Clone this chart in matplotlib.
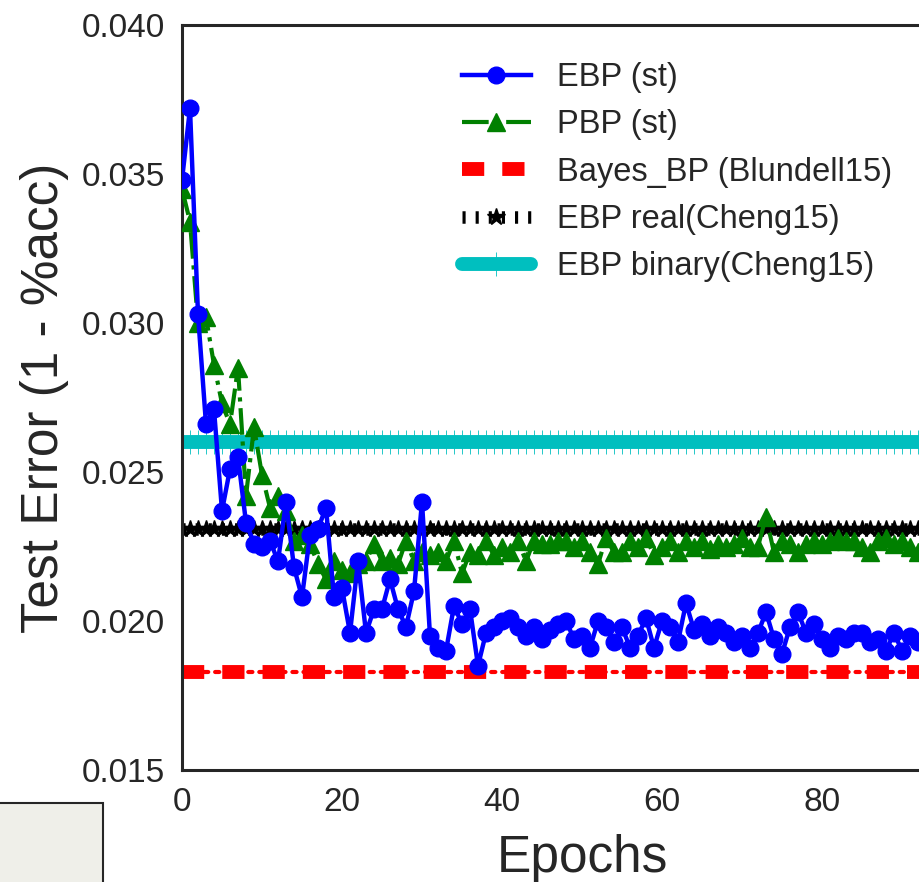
import numpy as np
import matplotlib
matplotlib.use("Agg")
import matplotlib.pyplot as plt
from matplotlib.patches import Rectangle

plt.rcParams['font.family'] = ['Liberation Sans', 'DejaVu Sans']

# test error per epoch
ebp_st = [0.0348, 0.0372, 0.0303, 0.0266, 0.0271, 0.0237, 0.0251, 0.0255, 0.0233, 0.0226,
          0.0225, 0.0227, 0.0220, 0.0240, 0.0218, 0.0208, 0.0229, 0.0231, 0.0238, 0.0208,
          0.0211, 0.0196, 0.0220, 0.0196, 0.0204, 0.0204, 0.0214, 0.0204, 0.0198, 0.0210,
          0.0240, 0.0195, 0.0191, 0.0190, 0.0205, 0.0199, 0.0204, 0.0185, 0.0196, 0.0198,
          0.0200, 0.0201, 0.0198, 0.0195, 0.0198, 0.0194, 0.0197, 0.0199, 0.0200, 0.0194,
          0.0195, 0.0191, 0.0200, 0.0198, 0.0193, 0.0198, 0.0191, 0.0195, 0.0201, 0.0191,
          0.0200, 0.0198, 0.0193, 0.0206, 0.0197, 0.0199, 0.0195, 0.0198, 0.0196, 0.0193,
          0.0195, 0.0191, 0.0196, 0.0203, 0.0194, 0.0189, 0.0198, 0.0203, 0.0196, 0.0199,
          0.0194, 0.0191, 0.0195, 0.0194, 0.0196, 0.0196, 0.0193, 0.0194, 0.0190, 0.0196,
          0.0190, 0.0195, 0.0193, 0.0195]
pbp_st = [0.0345, 0.0334, 0.0300, 0.0302, 0.0286, 0.0273, 0.0266, 0.0285, 0.0242, 0.0265,
          0.0249, 0.0238, 0.0242, 0.0237, 0.0227, 0.0229, 0.0226, 0.0219, 0.0214, 0.0220,
          0.0217, 0.0216, 0.0219, 0.0220, 0.0226, 0.0220, 0.0221, 0.0219, 0.0227, 0.0220,
          0.0223, 0.0222, 0.0223, 0.0220, 0.0227, 0.0216, 0.0223, 0.0222, 0.0227, 0.0222,
          0.0225, 0.0223, 0.0227, 0.0220, 0.0227, 0.0226, 0.0226, 0.0227, 0.0227, 0.0225,
          0.0227, 0.0223, 0.0219, 0.0228, 0.0223, 0.0223, 0.0227, 0.0225, 0.0228, 0.0222,
          0.0225, 0.0227, 0.0223, 0.0227, 0.0225, 0.0227, 0.0224, 0.0226, 0.0225, 0.0226,
          0.0228, 0.0225, 0.0225, 0.0235, 0.0223, 0.0227, 0.0226, 0.0223, 0.0226, 0.0227,
          0.0226, 0.0227, 0.0228, 0.0227, 0.0227, 0.0225, 0.0223, 0.0227, 0.0228, 0.0226,
          0.0227, 0.0225, 0.0223, 0.0225]
bayes_bp = 0.0183
ebp_real = 0.0231
ebp_binary = 0.0260

epochs = np.arange(len(ebp_st))
full = np.arange(100)

fig = plt.figure(figsize=(9.19, 8.82), dpi=100)
ax = fig.add_axes([182 / 919, 112 / 882, 800 / 919, 745 / 882])

ax.plot(full, np.full(len(full), ebp_binary), color='#00bfbf', lw=10,
        solid_capstyle='round', marker='|', ms=17, mew=0.6,
        label='EBP binary(Cheng15)', zorder=2)
ax.plot(full, np.full(len(full), bayes_bp), color='red', lw=3, ls=':',
        dash_capstyle='round', zorder=2)
ax.plot(full, np.full(len(full), bayes_bp), color='red', lw=10, ls=(0, (1.6, 1.3)),
        label='Bayes_BP (Blundell15)', zorder=2)
ax.plot(full, np.full(len(full), ebp_real), color='black', lw=9, ls=(0, (0.25, 0.8)),
        marker='*', ms=13, label='EBP real(Cheng15)', zorder=2)
ax.plot(epochs, pbp_st, color='green', ls='-.', lw=3, marker='^', ms=13,
        label='PBP (st)', zorder=3)
ax.plot(epochs, ebp_st, color='blue', ls='-', lw=3.2, marker='o', ms=12,
        label='EBP (st)', zorder=4)

ax.set_xlim(0, 100)
ax.set_ylim(0.015, 0.040)
ax.set_xticks([0, 20, 40, 60, 80])
ax.set_yticks([0.015, 0.020, 0.025, 0.030, 0.035, 0.040])
ax.set_yticklabels(['0.015', '0.020', '0.025', '0.030', '0.035', '0.040'])
ax.tick_params(length=0, labelsize=24, pad=12, colors='#262626')
for s in ax.spines.values():
    s.set_linewidth(2.2)
    s.set_color('#262626')
ax.set_xlabel('Epochs', fontsize=37, color='#262626', labelpad=12)
ax.set_ylabel('Test Error (1 - %acc)', fontsize=37, color='#262626', labelpad=9)

h, l = ax.get_legend_handles_labels()
order = [4, 3, 1, 2, 0]
leg = ax.legend([h[i] for i in order], [l[i] for i in order], loc='upper left',
                bbox_to_anchor=(462 / 919, 1 - 62 / 882), bbox_transform=fig.transFigure,
                frameon=False, fontsize=23.5, numpoints=1, handlelength=2.1,
                handletextpad=0.8, labelspacing=0.5, borderpad=0, borderaxespad=0)
for t in leg.get_texts():
    t.set_color('#262626')

# piece of the neighbouring panel in the bottom-left corner
fig.patches.append(Rectangle((-5, -5), 108, 84, transform=None, facecolor='#efefe9',
                             edgecolor='#262626', lw=1.5, figure=fig))

fig.savefig('out.png', dpi=100)
